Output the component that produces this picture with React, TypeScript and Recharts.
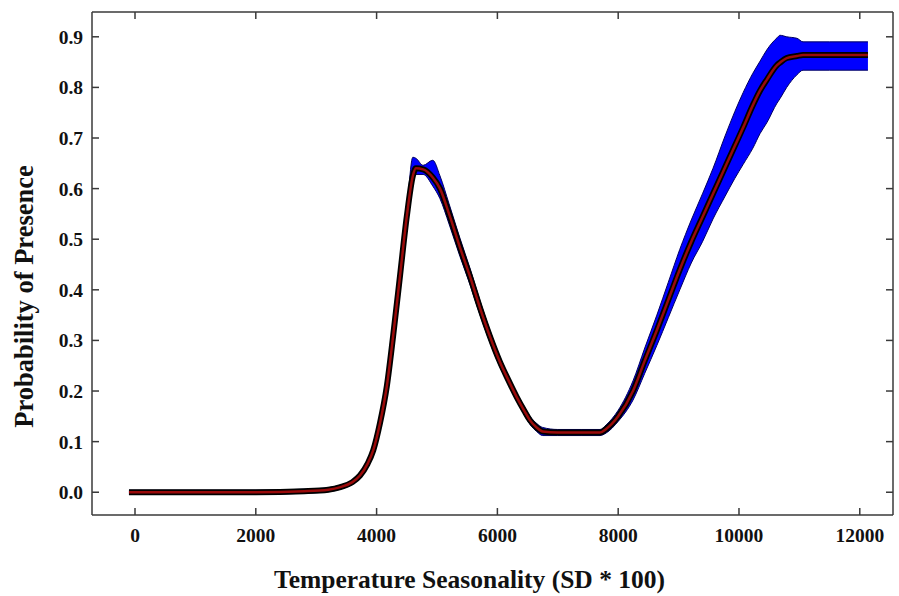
import React from 'react';
import { ComposedChart, Area, Line, XAxis, YAxis, Label } from 'recharts';

// Temperature seasonality (SD * 100) sample points
const seasonality = [
  -100, 1000, 2000, 2800, 3200, 3400, 3600, 3725, 3850, 3945, 4055, 4170, 4275, 4390,
  4500, 4600, 4650, 4770, 4930, 5050, 5200, 5380, 5550, 5710, 5870, 6040, 6180, 6320,
  6450, 6540, 6650, 6750, 7000, 7400, 7700, 7800, 8000, 8245, 8440, 8640, 8830, 9020,
  9210, 9400, 9570, 9770, 9930, 10070, 10230, 10350, 10460, 10630, 10680, 10790, 10960,
  11060, 11500, 12135,
];

// mean response
const presence = [
  0, 0, 0, 0.002, 0.005, 0.01, 0.02, 0.033, 0.056, 0.083, 0.136, 0.21, 0.31, 0.43,
  0.545, 0.625, 0.64, 0.638, 0.622, 0.6, 0.55, 0.484, 0.425, 0.365, 0.31, 0.258, 0.222, 0.188,
  0.16, 0.142, 0.128, 0.12, 0.118, 0.118, 0.118, 0.125, 0.15, 0.2, 0.26, 0.32, 0.38, 0.44,
  0.495, 0.545, 0.59, 0.642, 0.684, 0.721, 0.765, 0.794, 0.815, 0.844, 0.849, 0.858, 0.862,
  0.864, 0.864, 0.864,
];

// +/- one SD band
const lowerBound = [
  -0.004, -0.004, -0.004, -0.002, 0.001, 0.006, 0.016, 0.029, 0.052, 0.079, 0.13, 0.203, 0.302, 0.422,
  0.535, 0.615, 0.628, 0.628, 0.605, 0.58, 0.53, 0.466, 0.409, 0.351, 0.298, 0.248, 0.214, 0.18,
  0.152, 0.134, 0.12, 0.112, 0.112, 0.112, 0.112, 0.117, 0.14, 0.182, 0.235, 0.29, 0.345, 0.4,
  0.453, 0.496, 0.54, 0.585, 0.62, 0.648, 0.68, 0.709, 0.73, 0.769, 0.778, 0.8, 0.825,
  0.834, 0.834, 0.834,
];

const upperBound = [
  0.004, 0.004, 0.004, 0.006, 0.009, 0.014, 0.024, 0.037, 0.06, 0.087, 0.142, 0.217, 0.318, 0.438,
  0.557, 0.662, 0.66, 0.646, 0.656, 0.625, 0.57, 0.502, 0.441, 0.379, 0.322, 0.268, 0.23, 0.196,
  0.168, 0.15, 0.136, 0.128, 0.124, 0.124, 0.124, 0.133, 0.162, 0.22, 0.285, 0.35, 0.415, 0.48,
  0.538, 0.591, 0.64, 0.704, 0.752, 0.79, 0.828, 0.852, 0.874, 0.898, 0.903, 0.9, 0.897,
  0.89, 0.89, 0.89,
];

const xTicks = [0, 2000, 4000, 6000, 8000, 10000, 12000];
const yTicks = [0, 0.1, 0.2, 0.3, 0.4, 0.5, 0.6, 0.7, 0.8, 0.9];

const data = seasonality.map((x, i) => ({
  x,
  mean: presence[i],
  band: [lowerBound[i], upperBound[i]],
}));

const FONT = '"Liberation Serif", "Times New Roman", serif';
const AXIS = '#3a3a3a';
const tickStyle = { fontFamily: FONT, fontWeight: 700, fontSize: 19.5, fill: '#111' };

const xDomain = [-712, 12550];
const yDomain = [-0.045, 0.949];

// mirrored axes: tick marks only, no labels
const noLabel = () => <g />;

export default function App() {
  return (
    <div style={{ position: 'absolute', left: 0, top: 0, background: '#fff' }}>
      <ComposedChart
        width={899}
        height={596}
        data={data}
        margin={{ top: 11, right: 5, left: 0, bottom: 0 }}
      >
        <XAxis
          dataKey="x"
          type="number"
          domain={xDomain}
          ticks={xTicks}
          allowDataOverflow
          height={81}
          tickSize={-7}
          tickMargin={20}
          tickLine={{ stroke: AXIS, strokeWidth: 1.5 }}
          axisLine={{ stroke: AXIS, strokeWidth: 1.5 }}
          tick={tickStyle}
        >
          <Label
            content={({ viewBox }: any) => (
              <text
                x={viewBox.x + viewBox.width / 2 - 23}
                y={viewBox.y + 73}
                textAnchor="middle"
                style={{ fontFamily: FONT, fontWeight: 700, fontSize: 25.5, fill: '#111' }}
              >
                Temperature Seasonality (SD * 100)
              </text>
            )}
          />
        </XAxis>
        <XAxis
          xAxisId="top"
          orientation="top"
          dataKey="x"
          type="number"
          domain={xDomain}
          ticks={xTicks}
          allowDataOverflow
          height={1}
          tickSize={-7}
          tick={noLabel}
          tickLine={{ stroke: AXIS, strokeWidth: 1.5 }}
          axisLine={{ stroke: AXIS, strokeWidth: 1.5 }}
        />
        <YAxis
          type="number"
          domain={yDomain}
          ticks={yTicks}
          allowDataOverflow
          width={92}
          tickSize={-7}
          tickMargin={16}
          tickFormatter={(v: number) => v.toFixed(1)}
          tickLine={{ stroke: AXIS, strokeWidth: 1.5 }}
          axisLine={{ stroke: AXIS, strokeWidth: 1.5 }}
          tick={tickStyle}
        >
          <Label
            content={({ viewBox }: any) => {
              const cx = 33;
              const cy = viewBox.y + viewBox.height / 2 + 33;
              return (
                <text
                  x={cx}
                  y={cy}
                  transform={`rotate(-90, ${cx}, ${cy})`}
                  textAnchor="middle"
                  style={{ fontFamily: FONT, fontWeight: 700, fontSize: 26.5, fill: '#111' }}
                >
                  Probability of Presence
                </text>
              );
            }}
          />
        </YAxis>
        <YAxis
          yAxisId="right"
          orientation="right"
          type="number"
          domain={yDomain}
          ticks={yTicks}
          allowDataOverflow
          width={1}
          tickSize={-7}
          tick={noLabel}
          tickLine={{ stroke: AXIS, strokeWidth: 1.5 }}
          axisLine={{ stroke: AXIS, strokeWidth: 1.5 }}
        />
        <Area
          type="monotone"
          dataKey="band"
          fill="#0000ff"
          fillOpacity={1}
          stroke="#000060"
          strokeWidth={1}
          isAnimationActive={false}
        />
        <Line
          type="monotone"
          dataKey="mean"
          stroke="#000"
          strokeWidth={6}
          dot={false}
          isAnimationActive={false}
        />
        <Line
          type="monotone"
          dataKey="mean"
          xAxisId="top"
          yAxisId="right"
          stroke="#9a0a0a"
          strokeWidth={2.5}
          dot={false}
          isAnimationActive={false}
        />
      </ComposedChart>
    </div>
  );
}
